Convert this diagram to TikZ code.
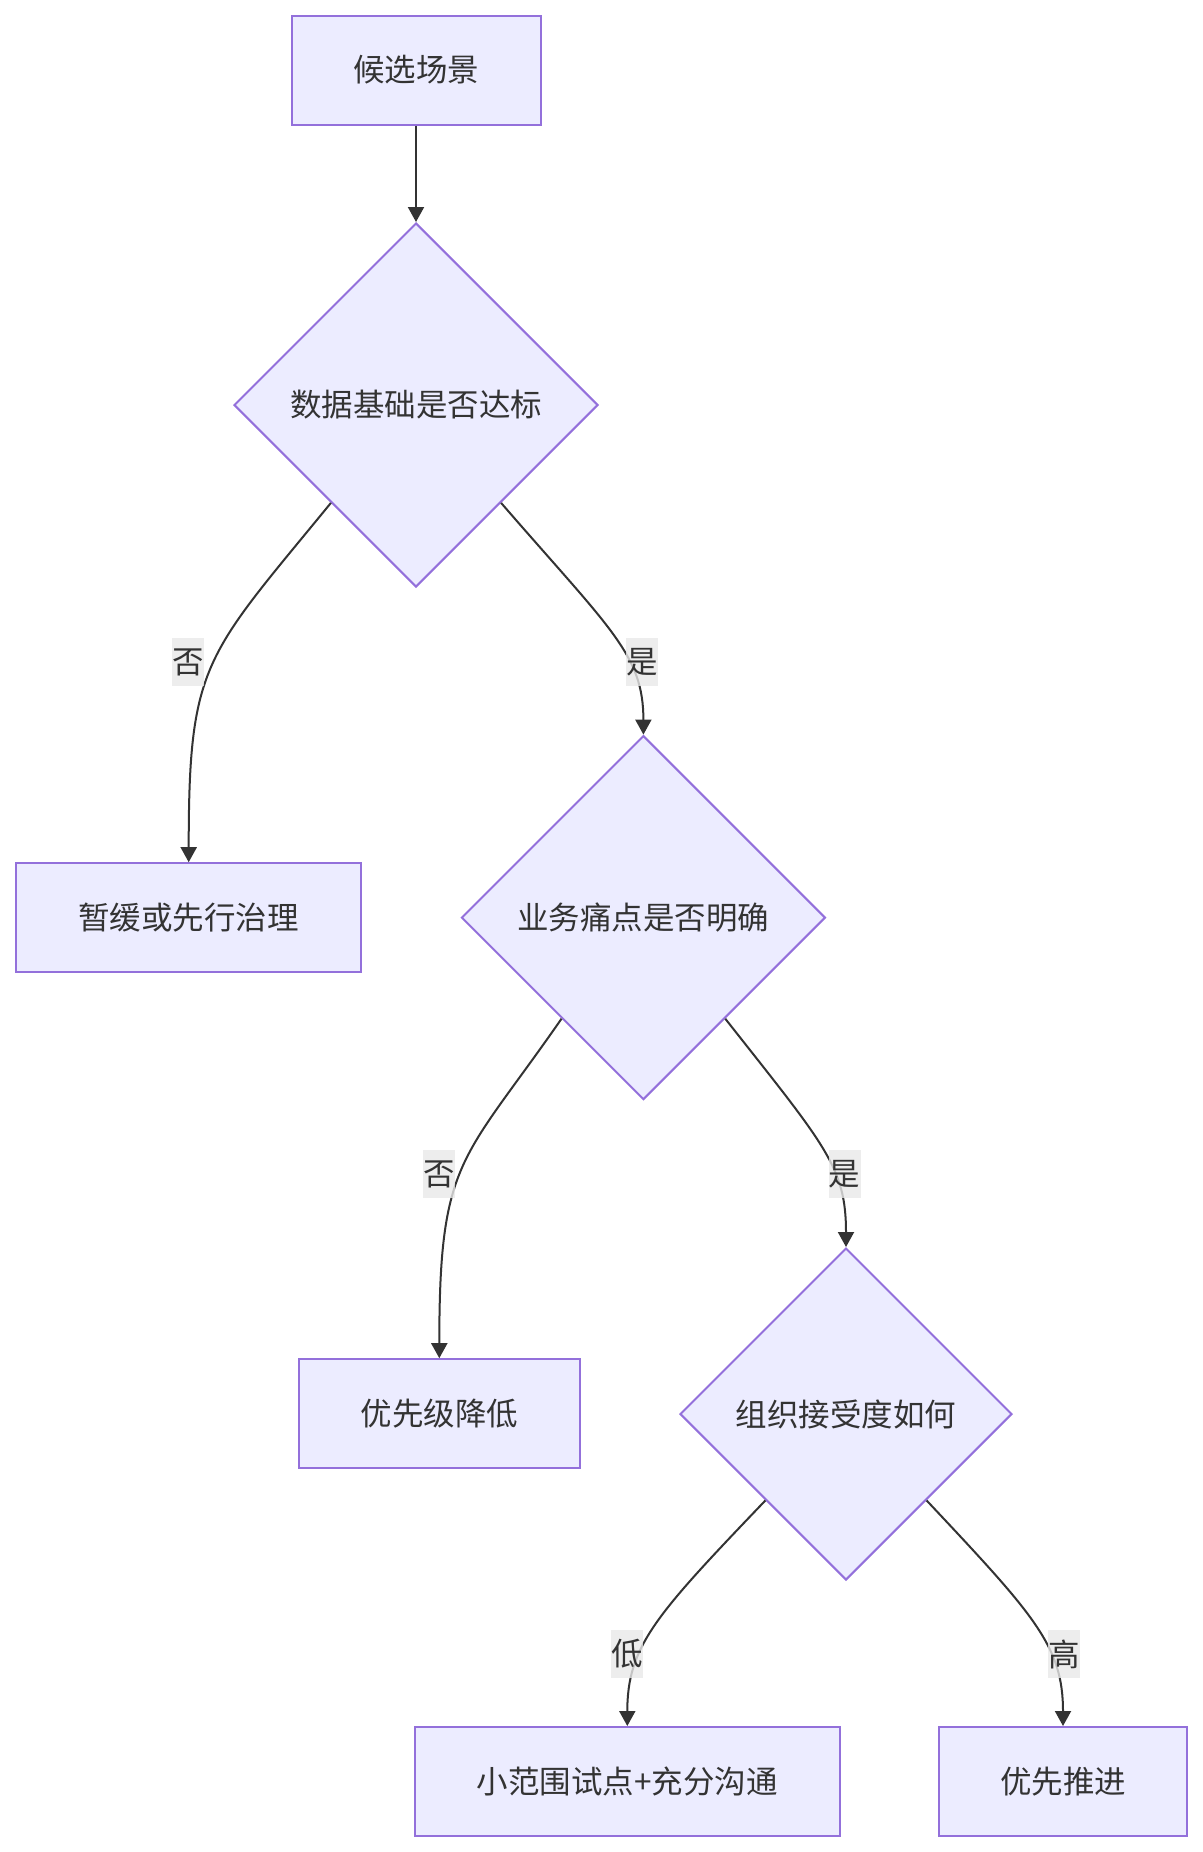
\documentclass[tikz,border=0pt]{standalone}
\usepackage{fontspec}
\setmainfont{Noto Sans CJK SC}
\usepackage{xcolor}
\usetikzlibrary{arrows.meta, shapes.geometric}

\definecolor{nodefill}{HTML}{ECECFF}
\definecolor{nodeline}{HTML}{9370DB}
\definecolor{ink}{HTML}{333333}
\definecolor{labfill}{HTML}{E8E8E8}

\begin{document}
\begin{tikzpicture}[
  x=0.5pt, y=-0.5pt,
  font=\fontsize{15.75pt}{19pt}\selectfont,
  >={Triangle[length=7.5pt, width=8pt]},
  proc/.style={draw=nodeline, fill=nodefill, line width=1pt, text=ink, inner sep=0pt, minimum height=54.5pt, minimum width=#1},
  ask/.style={diamond, aspect=1, draw=nodeline, fill=nodefill, line width=1pt, text=ink, inner sep=0pt, minimum width=#1, minimum height=#1},
  elabel/.style={fill=labfill, fill opacity=0.8, text opacity=1, text=ink, inner sep=0pt, minimum width=16pt, minimum height=24pt},
  link/.style={->, draw=ink, line width=1pt}
]

% Page frame
\useasboundingbox (0,0) rectangle (1203,1852);

% Start
\node[proc=124.5pt] (s0) at (416,70) {候选场景};

% Decisions
\node[ask=182pt] (d1) at (416,405) {数据基础是否达标};
\node[ask=182pt] (d2) at (643.4,917.6) {业务痛点是否明确};
\node[ask=166pt] (d3) at (846,1414) {组织接受度如何};

% Outcomes
\node[proc=172.5pt] (r1) at (188.7,917.7) {暂缓或先行治理};
\node[proc=140.5pt] (r2) at (439.3,1413.7) {优先级降低};
\node[proc=212.5pt] (r3) at (627.3,1781.5) {小范围试点+充分沟通};
\node[proc=124pt] (r4) at (1063,1781.5) {优先推进};

% Connectors
\draw[link] (s0.south) -- (d1.north);
\draw[link] (d1.229) .. controls +(-126,154) and +(0,-200) .. (r1.north);
\draw[link] (d1.311) .. controls +(110,127) and +(0,-80) .. (d2.north);
\draw[link] (d2.231) .. controls +(-100,144) and +(0,-200) .. (r2.north);
\draw[link] (d2.309) .. controls +(100,127) and +(0,-80) .. (d3.north);
\draw[link] (d3.227) .. controls +(-110,115) and +(0,-80) .. (r3.north);
\draw[link] (d3.313) .. controls +(108,115) and +(0,-80) .. (r4.north);

% Edge labels
\node[elabel] (n1) at (188,662) {否};
\node[elabel] (y1) at (642,662) {是};
\node[elabel] (n2) at (439,1174) {否};
\node[elabel] (y2) at (844.6,1174) {是};
\node[elabel] (lo) at (627,1654) {低};
\node[elabel] (hi) at (1064,1654) {高};

\end{tikzpicture}
\end{document}
